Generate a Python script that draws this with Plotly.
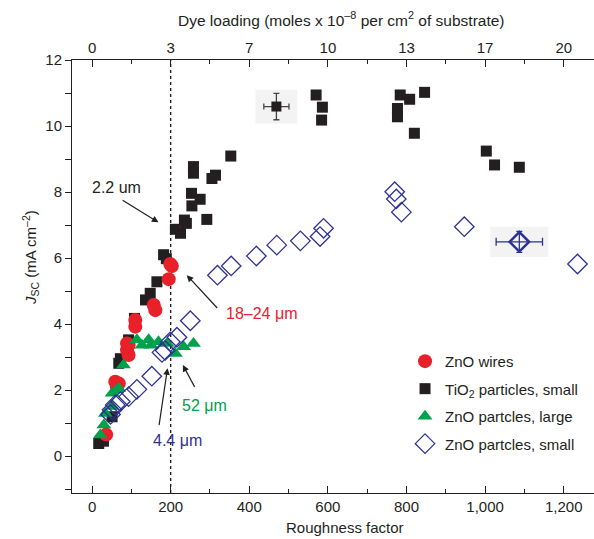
import plotly.graph_objects as go

# ---------------- data ----------------
tio2_x = [17, 29, 51, 68, 72, 93, 108, 136, 148, 165, 182, 189, 212, 225, 235, 240, 253, 254, 275,
          258, 258, 292, 305, 314, 353, 570, 586, 584, 784, 808, 846, 777, 777, 820, 1003, 1024, 1087]
tio2_y = [0.38, 0.45, 1.19, 2.81, 2.95, 3.52, 4.17, 4.73, 4.93, 5.28, 6.1, 5.98, 6.87, 6.75, 7.15, 7.05, 7.96,
          7.58, 7.78, 8.77, 8.57, 7.17, 8.41, 8.51, 9.09, 10.94, 10.57, 10.18, 10.94, 10.81, 11.02, 10.53,
          10.28, 9.78, 9.24, 8.82, 8.75]

wires_x = [36, 59, 63, 68, 89, 89, 93, 93, 110, 110, 157, 161, 195, 199, 203]
wires_y = [0.65, 2.25, 2.1, 2.2, 3.21, 3.41, 3.06, 3.36, 3.92, 4.12, 4.58, 4.42, 5.36, 5.82, 5.76]

large_x = [21, 30, 34, 51, 51, 63, 68, 80, 114, 127, 144, 150, 169, 191, 212, 233, 258]
large_y = [0.64, 0.94, 1.29, 1.5, 1.9, 2.0, 2.05, 2.76, 3.52, 3.36, 3.52, 3.36, 3.46, 3.41, 3.11, 3.31, 3.41]

small_x = [47, 51, 59, 72, 93, 114, 152, 178, 186, 199, 216, 250, 319, 354, 418, 470, 530, 580, 589,
           770, 774, 787, 947, 1235]
small_y = [1.26, 1.4, 1.55, 1.65, 1.8, 2.02, 2.42, 3.14, 3.2, 3.46, 3.6, 4.1, 5.48, 5.76, 6.06, 6.39, 6.52,
           6.65, 6.9, 8.01, 7.79, 7.39, 6.95, 5.82]

# representative points with error bars
tio2_err_x, tio2_err_y, tio2_err_dx, tio2_err_dy = [469], [10.59], [32], [0.4]
small_err_x, small_err_y, small_err_dx, small_err_dy = [1087], [6.49], [59], [0.32]

x_ticks = [0, 200, 400, 600, 800, 1000, 1200]
x_ticktext = ["0", "200", "400", "600", "800", "1,000", "1,200"]
dye_ticktext = ["0", "3", "7", "10", "13", "17", "20"]
y_ticks = [0, 2, 4, 6, 8, 10, 12]
ref_x = 200

# ---------------- styling ----------------
FONT = "Liberation Sans, Arial, sans-serif"
RED = "#e8202a"
BLACK = "#231f20"
GREEN = "#00a14b"
BLUE = "#2e3192"
XR = [-51, 1277]
YR = [-1.12, 12]

fig = go.Figure()

fig.add_trace(go.Scatter(x=tio2_x, y=tio2_y, mode="markers", name="TiO<sub>2</sub> particles, small",
                         legendgroup="b", legendrank=2,
                         marker=dict(symbol="square", size=11, color=BLACK)))
fig.add_trace(go.Scatter(x=tio2_err_x, y=tio2_err_y, mode="markers", showlegend=False,
                         marker=dict(symbol="square", size=10, color=BLACK),
                         error_x=dict(type="data", array=tio2_err_dx, color="#444", thickness=1.3, width=3),
                         error_y=dict(type="data", array=tio2_err_dy, color="#444", thickness=1.3, width=3)))
fig.add_trace(go.Scatter(x=wires_x, y=wires_y, mode="markers", name="ZnO wires",
                         legendgroup="a", legendrank=1,
                         marker=dict(symbol="circle", size=14, color=RED)))
fig.add_trace(go.Scatter(x=large_x, y=large_y, mode="markers", name="ZnO partcles, large",
                         legendgroup="c", legendrank=3,
                         marker=dict(symbol="triangle-up", size=13, color=GREEN)))
fig.add_trace(go.Scatter(x=small_x, y=small_y, mode="markers", name="ZnO partcles, small",
                         legendgroup="d", legendrank=4,
                         marker=dict(symbol="diamond-open", size=15, color=BLUE, line=dict(width=1.3))))
fig.add_trace(go.Scatter(x=small_err_x, y=small_err_y, mode="markers", showlegend=False,
                         marker=dict(symbol="diamond-open", size=15, color=BLUE, line=dict(width=2.5)),
                         error_x=dict(type="data", array=small_err_dx, color=BLUE, thickness=1.3, width=4),
                         error_y=dict(type="data", array=small_err_dy, color=BLUE, thickness=1.3, width=3)))
# invisible trace so the top axis is drawn
fig.add_trace(go.Scatter(x=[None], y=[None], xaxis="x2", showlegend=False, hoverinfo="skip"))

shapes = []
# faint background boxes behind the error-bar markers (padding factors relative to the error sizes)
for xs, ys, dxs, dys, fx, fy in [(tio2_err_x, tio2_err_y, tio2_err_dx, tio2_err_dy, 1.66, 1.28),
                                 (small_err_x, small_err_y, small_err_dx, small_err_dy, 1.25, 1.43)]:
    for xv, yv, dx, dy in zip(xs, ys, dxs, dys):
        shapes.append(dict(type="rect", xref="x", yref="y", layer="below",
                           x0=xv - dx * fx, x1=xv + dx * fx, y0=yv - dy * fy, y1=yv + dy * fy,
                           fillcolor="#f3f3f3", line=dict(width=0)))
shapes.append(dict(type="line", xref="x", yref="paper", x0=ref_x, x1=ref_x, y0=0, y1=1,
                   line=dict(color=BLACK, width=1.4, dash="dot"), layer="below"))

ann = []
def arrow(tip_x, tip_y, tail_x, tail_y):
    ann.append(dict(x=tip_x, y=tip_y, ax=tail_x, ay=tail_y, xref="x", yref="y", axref="x", ayref="y",
                    text="", showarrow=True, arrowhead=2, arrowsize=1.1, arrowwidth=1.2, arrowcolor=BLACK))
def label(x, y, t, c):
    ann.append(dict(x=x, y=y, xref="x", yref="y", text=t, showarrow=False,
                    font=dict(family=FONT, size=16, color=c)))

arrow(169, 7.08, 74, 7.78)
label(62, 8.13, "2.2 um", BLACK)
arrow(241, 5.48, 322, 4.44)
label(431, 4.32, "18–24 μm", RED)
arrow(231, 2.76, 263, 2.05)
label(285, 1.52, "52 μm", GREEN)
arrow(192, 2.66, 170, 0.89)
label(217, 0.46, "4.4 μm", BLUE)

# axis titles as paper annotations (fixed placement)
ann.append(dict(x=(345 - 72) / 522, y=-(527 - 493) / 433, xref="paper", yref="paper",
                text="Roughness factor", showarrow=False, xanchor="center", yanchor="middle",
                font=dict(family=FONT, size=15, color=BLACK)))
ann.append(dict(x=(341 - 72) / 522, y=1 + (60 - 19) / 433, xref="paper", yref="paper",
                text="Dye loading (moles x 10<sup>–8</sup> per cm<sup>2</sup> of substrate)",
                showarrow=False, xanchor="center", yanchor="middle",
                font=dict(family=FONT, size=15.5, color=BLACK)))
ann.append(dict(x=(30 - 72) / 522, y=(493 - 258) / 433, xref="paper", yref="paper",
                text="<i>J</i><sub>SC</sub> (mA cm<sup>–2</sup>)", textangle=-90,
                showarrow=False, xanchor="center", yanchor="middle",
                font=dict(family=FONT, size=15, color=BLACK)))

fig.update_layout(
    width=594, height=539,
    margin=dict(l=72, r=0, t=60, b=46, autoexpand=False),
    paper_bgcolor="white", plot_bgcolor="white",
    font=dict(family=FONT, size=15, color=BLACK),
    shapes=shapes, annotations=ann,
    showlegend=True,
    legend=dict(x=0.638, y=0.342, xanchor="left", yanchor="top", bgcolor="rgba(0,0,0,0)",
                font=dict(family=FONT, size=15), tracegroupgap=5),
    xaxis=dict(range=XR, tickmode="array", tickvals=x_ticks, ticktext=x_ticktext, automargin=False,
               ticks="inside", ticklen=7, tickwidth=1, tickcolor=BLACK,
               minor=dict(ticks="inside", ticklen=4, dtick=100, tick0=0, tickcolor=BLACK),
               showline=True, linecolor=BLACK, linewidth=1, showgrid=False, zeroline=False),
    xaxis2=dict(range=XR, overlaying="x", side="top", anchor="y", tickmode="array", tickvals=x_ticks,
                ticktext=dye_ticktext, automargin=False,
                ticks="inside", ticklen=7, tickwidth=1, tickcolor=BLACK,
                minor=dict(ticks="inside", ticklen=4, dtick=100, tick0=0, tickcolor=BLACK),
                showline=True, linecolor=BLACK, linewidth=1, showgrid=False, zeroline=False),
    yaxis=dict(range=YR, tickmode="array", tickvals=y_ticks, automargin=False,
               ticks="outside", ticklen=6, tickwidth=1, tickcolor=BLACK,
               minor=dict(ticks="outside", ticklen=6, dtick=1, tick0=0, tickcolor=BLACK),
               showline=True, linecolor=BLACK, linewidth=1, showgrid=False, zeroline=False),
)

fig.write_html("out.html", config={"displayModeBar": False},
               post_script="document.body.style.margin='0';")
